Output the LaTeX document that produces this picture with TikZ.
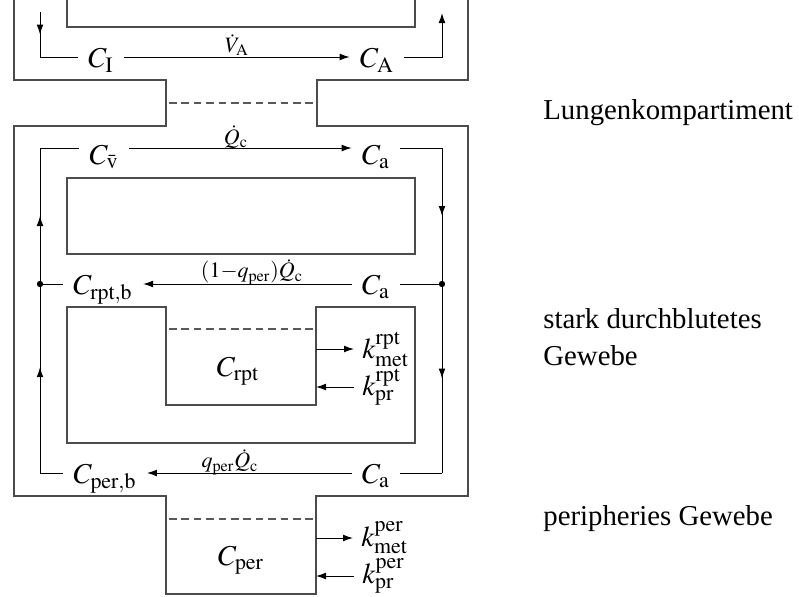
\documentclass[tikz,border=0pt]{standalone}
\usepackage{mathptmx}
\usepackage[no-math]{fontspec}
\setmainfont{Liberation Serif}
\usetikzlibrary{arrows.meta,decorations.markings}
\tikzset{
  box/.style={draw=black!70, line width=0.6pt},
  flow/.style={draw=black, line width=0.5pt},
  tip/.style={-{Latex[length=5pt,width=3.4pt]}},
  conc/.style={inner xsep=5pt, inner ysep=0pt, text height=12.5pt, text depth=2pt},
  lbl/.style={font=\fontsize{11}{13}\selectfont, inner sep=0pt},
  kval/.style={anchor=west, inner xsep=4pt, inner ysep=0pt},
  txt/.style={anchor=base west, inner sep=0pt},
  midarr/.style={postaction={decorate}, decoration={markings, mark=at position #1 with {\arrow{Latex[length=5pt,width=3.4pt]}}}},
  dashline/.style={draw=black!65, dash pattern=on 3.8pt off 2.4pt, line width=0.6pt},
}
\begin{document}
\begin{tikzpicture}[x=0.5pt, y=-0.5pt, font=\fontsize{14.4}{17}\selectfont]
\useasboundingbox (0,0) rectangle (799,596);

% compartments outline
\draw[box] (14,0) -- (14,80) -- (166,80) -- (166,126) -- (14,126) -- (14,496)
  -- (166,496) -- (166,594) -- (316,594) -- (316,496) -- (468,496) -- (468,126)
  -- (317,126) -- (317,80) -- (468,80) -- (468,0);
\draw[box] (67,0) -- (67,27) -- (415,27) -- (415,0);
\draw[box] (67,178) rectangle (415,254);
\draw[box] (67,307) -- (166,307) -- (166,405) -- (316,405) -- (316,307) -- (415,307)
  -- (415,443) -- (67,443) -- cycle;
\draw[dashline] (169,103) -- (313,103);
\draw[dashline] (169,329) -- (313,329);
\draw[dashline] (169,519) -- (313,519);

% concentration nodes
\node[conc] (CI) at (101,57) {$C_{\mathrm I}$};
\node[conc] (CA) at (377,57) {$C_{\mathrm A}$};
\node[conc] (Cv) at (104,153.5) {$C_{\bar{\mathrm v}}$};
\node[conc] (Ca1) at (376,153.5) {$C_{\mathrm a}$};
\node[conc] (Crptb) at (103,284) {$C_{\mathrm{rpt,b}}$};
\node[conc] (Ca2) at (376,284) {$C_{\mathrm a}$};
\node[conc] (Cperb) at (105,473) {$C_{\mathrm{per,b}}$};
\node[conc] (Ca3) at (376,473) {$C_{\mathrm a}$};
\node[anchor=base] (Crpt) at (238,376) {$C_{\mathrm{rpt}}$};
\node[anchor=base] (Cper) at (241,565) {$C_{\mathrm{per}}$};

% corner coordinates
\coordinate (ltop) at (40,12);
\coordinate (l0) at (40,57);
\coordinate (rtop) at (442,13);
\coordinate (l1) at (40,148);
\coordinate (r1) at (442,148);
\coordinate (dL) at (40,284);
\coordinate (dR) at (442,284);
\coordinate (l3) at (40,473);
\coordinate (r3) at (442,473);

% lung flow
\draw[flow,midarr=0.5] (ltop) -- (l0);
\draw[flow] (l0) -- (CI.west);
\draw[flow,tip] (CI.east) -- (CA.west);
\draw[flow,tip] (CA.east) -| (rtop);

% blood circuit
\draw[flow,tip] ([yshift=2.75pt]Cv.east) -- ([yshift=2.75pt]Ca1.west);
\draw[flow] ([yshift=2.75pt]Ca1.east) -- (r1);
\draw[flow,midarr=0.5] (r1) -- (dR);
\draw[flow] (Ca2.east) -- (dR);
\draw[flow,tip] (Ca2.west) -- (Crptb.east);
\draw[flow] (Crptb.west) -- (dL);
\draw[flow,midarr=0.5] (dL) -- (l1);
\draw[flow] (l1) -- ([yshift=2.75pt]Cv.west);
\draw[flow,midarr=0.5] (dR) -- (r3);
\draw[flow] (r3) -- (Ca3.east);
\draw[flow,tip] (Ca3.west) -- (Cperb.east);
\draw[flow] (Cperb.west) -- (l3);
\draw[flow,midarr=0.56] (l3) -- (dL);
\fill (dL) circle (1.6pt);
\fill (dR) circle (1.6pt);

% flow labels
\node[lbl] (lV) at (237,45) {$\dot V_{\mathrm A}$};
\node[lbl] (lQ) at (236,137) {$\dot Q_{\mathrm c}$};
\node[lbl] (lQ2) at (252,272) {$(1{-}q_{\mathrm{per}})\dot Q_{\mathrm c}$};
\node[lbl] (lQ3) at (230,462) {$q_{\mathrm{per}}\dot Q_{\mathrm c}$};

% metabolism / production
\node[kval] (kmr) at (354,349) {$k^{\mathrm{rpt}}_{\mathrm{met}}$};
\node[kval] (kpr) at (354,387) {$k^{\mathrm{rpt}}_{\mathrm{pr}}$};
\node[kval] (kme) at (353,538) {$k^{\mathrm{per}}_{\mathrm{met}}$};
\node[kval] (kpe) at (354,576) {$k^{\mathrm{per}}_{\mathrm{pr}}$};
\coordinate (rm) at (316,349);
\coordinate (rp) at (316,387);
\coordinate (pm) at (316,538);
\coordinate (pp) at (316,576);
\draw[flow,tip] (rm) -- (kmr.west);
\draw[flow,tip] (kpr.west) -- (rp);
\draw[flow,tip] (pm) -- (kme.west);
\draw[flow,tip] (kpe.west) -- (pp);

% compartment names
\node[txt] (t1) at (543,119) {Lungenkompartiment};
\node[txt] (t2) at (543,328) {stark durchblutetes};
\node[txt] (t3) at (543,365) {Gewebe};
\node[txt] (t4) at (543,525) {peripheries Gewebe};
\end{tikzpicture}
\end{document}
